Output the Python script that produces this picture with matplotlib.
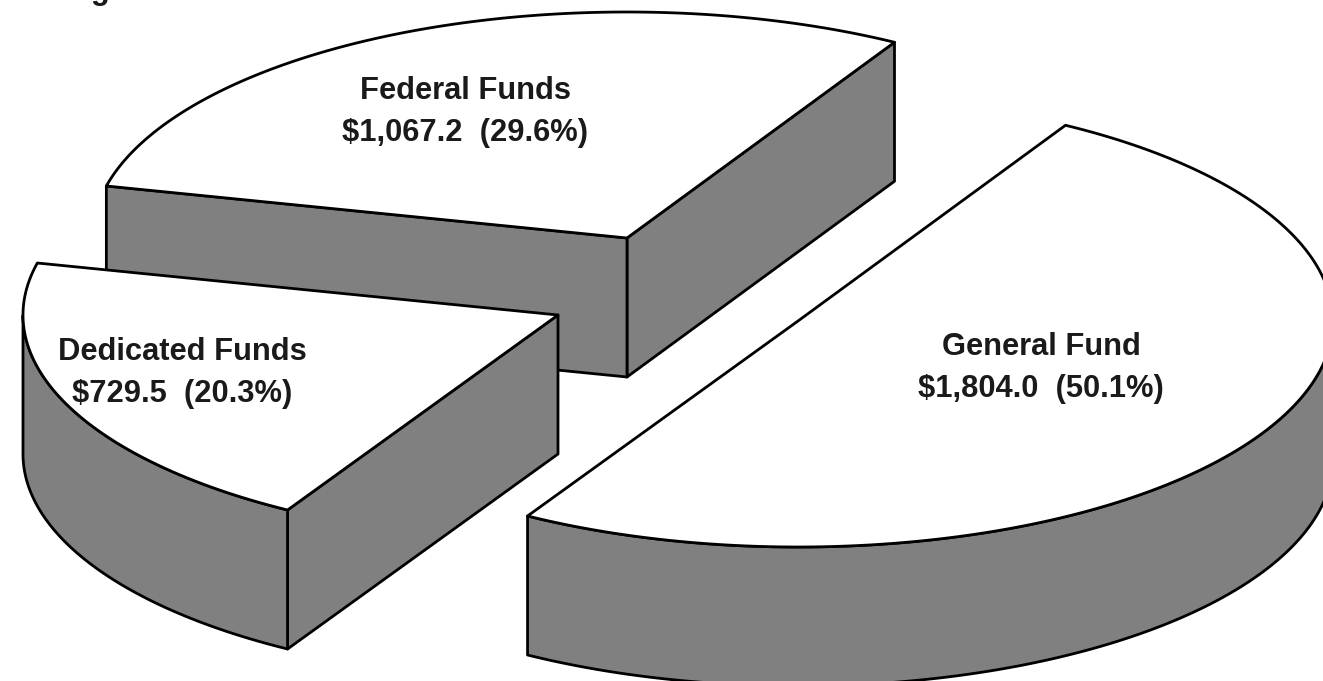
import numpy as np
import matplotlib
matplotlib.use('Agg')
import matplotlib.pyplot as plt
from matplotlib.patches import Polygon

plt.rcParams['font.family'] = ['Liberation Sans', 'DejaVu Sans']

# Dollar amounts for each fund, in pie order starting from the upper right
fund_names = ['Federal Funds', 'Dedicated Funds', 'General Fund']
fund_values = [1067.2, 729.5, 1804.0]

# Exploded centre of each slice and where its label sits (canvas pixels)
slice_centers = [(627, 238), (558, 315), (798, 321)]
label_centers = [(465, 112), (182, 373), (1041, 368)]

rx, ry = 535, 226
depth = 139
start_angle = 60
wall_color = '#808080'
edge_width = 2.0


def draw_wall(ax, top_x, top_y):
    # Extrude one stretch of the slice outline straight down
    xs = np.concatenate([top_x, top_x[::-1]])
    ys = np.concatenate([top_y, top_y[::-1] + depth])
    ax.add_patch(Polygon(np.column_stack([xs, ys]), closed=True, facecolor=wall_color,
                         edgecolor='black', linewidth=edge_width, joinstyle='round'))


def draw_slice(ax, center, theta0, theta1):
    cx, cy = center
    t = np.radians(np.linspace(theta0, theta1, 240))
    arc_x = cx + rx * np.cos(t)
    arc_y = cy - ry * np.sin(t)

    # Only the edges running rightwards face the viewer
    if arc_x[0] > cx:
        draw_wall(ax, np.array([cx, arc_x[0]]), np.array([cy, arc_y[0]]))
    if arc_x[-1] < cx:
        draw_wall(ax, np.array([arc_x[-1], cx]), np.array([arc_y[-1], cy]))
    front = np.where(np.diff(arc_x) > 0)[0]
    if len(front) > 0:
        keep = np.arange(front[0], front[-1] + 2)
        draw_wall(ax, arc_x[keep], arc_y[keep])

    # White top face
    top = np.column_stack([np.r_[cx, arc_x], np.r_[cy, arc_y]])
    ax.add_patch(Polygon(top, closed=True, facecolor='white', edgecolor='black',
                         linewidth=edge_width, joinstyle='round'))


fig = plt.figure(figsize=(13.23, 6.81), dpi=100)
ax = fig.add_axes([0, 0, 1, 1])
ax.set_xlim(0, 1323)
ax.set_ylim(681, 0)
ax.axis('off')

total = sum(fund_values)
shares = [v / total for v in fund_values]

# Each slice spans an angle proportional to its share of the total
angle = start_angle
for center, share in zip(slice_centers, shares):
    draw_slice(ax, center, angle, angle + share * 360)
    angle += share * 360

for name, value, share, (lx, ly) in zip(fund_names, fund_values, shares, label_centers):
    ax.text(lx, ly, f'{name}\n${value:,.1f}  ({share * 100:.1f}%)', ha='center', va='center',
            fontsize=22.2, fontweight='bold', color='#1a1a1a', linespacing=1.48)

# Heading sits above the top edge, so only its descender shows
ax.text(-12, -1.5, 'Funding Source', ha='left', va='baseline', fontsize=22.2,
        fontweight='bold', color='#1a1a1a', clip_on=True)

plt.savefig('out.png', dpi=100)
